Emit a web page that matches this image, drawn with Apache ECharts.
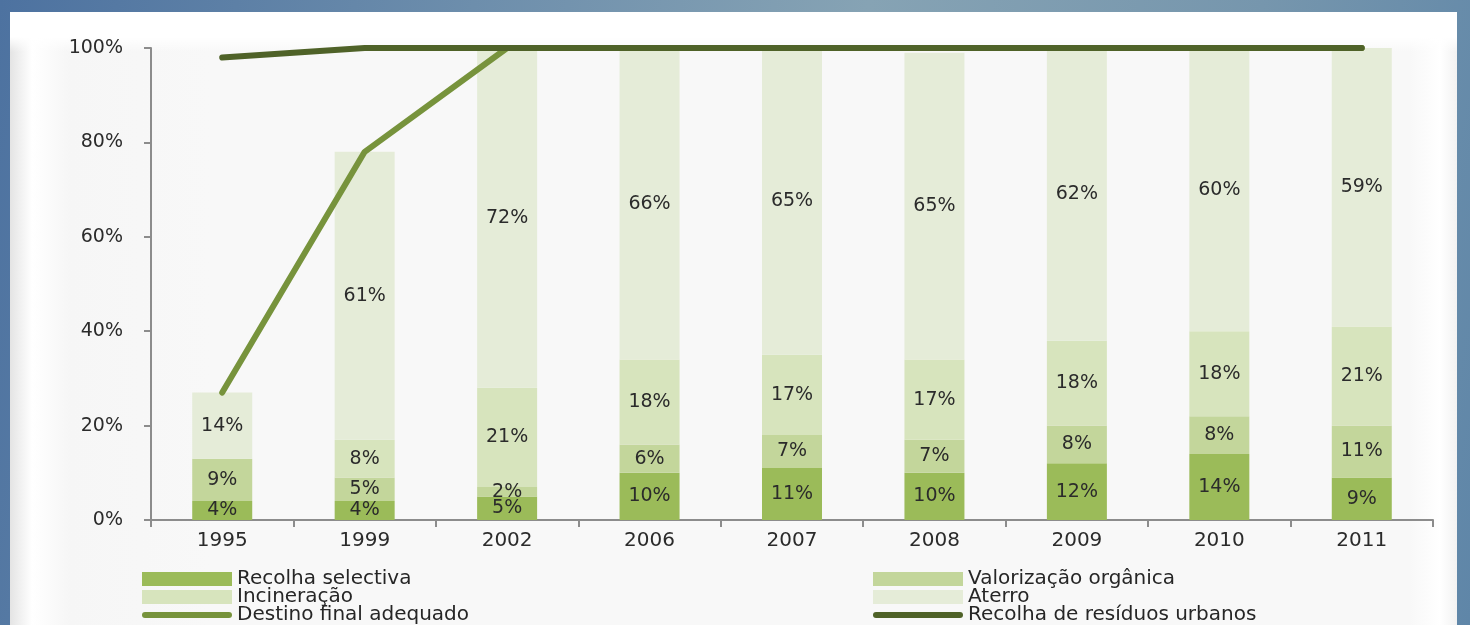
<!DOCTYPE html>
<html>
<head>
<meta charset="utf-8">
<script src="https://cdn.jsdelivr.net/npm/echarts@6/dist/echarts.min.js"></script>
<style>
  html, body { margin: 0; padding: 0; }
  body {
    width: 1470px; height: 625px; overflow: hidden; position: relative;
    background: linear-gradient(100deg, #4d72a0 0%, #6d8eac 30%, #86a3b4 55%, #7696ad 80%, #5f86a8 100%);
  }
  #frame {
    position: absolute; left: 10px; top: 12px; width: 1447px; height: 613px;
    background:
      linear-gradient(to bottom, #ffffff 0px, #ffffff 25px, rgba(255,255,255,0) 40px),
      linear-gradient(to right, #e4e4e4 0px, #ffffff 22px, #f6f6f6 60px, #f8f8f8 200px, #f8f8f8 1400px, #ffffff 1430px, #f2f2f2 1447px);
  }
  #main { position: absolute; left: 0; top: 0; width: 1470px; height: 625px; }
</style>
</head>
<body>
<div id="frame"></div>
<div id="main"></div>
<script>
// 数据
var years = ["1995", "1999", "2002", "2006", "2007", "2008", "2009", "2010", "2011"];
var recolhaSelectiva = [4, 4, 5, 10, 11, 10, 12, 14, 9];
var valorizacaoOrganica = [9, 5, 2, 6, 7, 7, 8, 8, 11];
var incineracao = [0, 8, 21, 18, 17, 17, 18, 18, 21];
var aterro = [14, 61, 72, 66, 65, 65, 62, 60, 59];
var destinoFinal = [27, 78, 100, 100, 100, 100, 100, 100, 100];
var recolhaResiduos = [98, 100, 100, 100, 100, 100, 100, 100, 100];
var yTicks = [0, 20, 40, 60, 80, 100];

var font = "DejaVu Sans";
var pill = "path://M3,0 L87,0 A3,3 0 0 1 87,6 L3,6 A3,3 0 0 1 3,0 Z"; // 图例线条
var chart = echarts.init(document.getElementById("main"));

function barSeries(name, data, color) {
  return {
    name: name,
    type: "bar",
    stack: "total",
    barWidth: 60,
    data: data,
    itemStyle: { color: color },
    label: {
      show: true,
      position: "inside",
      color: "#2b2b2b",
      fontFamily: font,
      fontSize: 19,
      formatter: function(p) {
        return p.value ? p.value + "%" : "";
      }
    },
    animation: false
  };
}

function lineSeries(name, data, color) {
  return {
    name: name,
    type: "line",
    data: data,
    symbol: "none",
    lineStyle: { color: color, width: 6, cap: "round", join: "round" },
    itemStyle: { color: color },
    z: 5,
    animation: false
  };
}

function legendItem(name, left, top, isLine) {
  return {
    data: [name],
    left: left,
    top: top,
    icon: isLine ? pill : "rect",
    itemWidth: 90,
    itemHeight: isLine ? 6 : 14,
    padding: 0,
    textStyle: { color: "#262626", fontFamily: font, fontSize: 20 }
  };
}

chart.setOption({
  backgroundColor: "transparent",
  grid: { left: 151, right: 37, top: 48, bottom: 105 },
  legend: [
    legendItem("Recolha selectiva", 142, 569),
    legendItem("Valorização orgânica", 873, 569),
    legendItem("Incineração", 142, 587),
    legendItem("Aterro", 873, 587),
    legendItem("Destino final adequado", 142, 605, true),
    legendItem("Recolha de resíduos urbanos", 873, 605, true)
  ],
  xAxis: {
    type: "category",
    data: years,
    axisLine: { lineStyle: { color: "#8c8c8c", width: 2 } },
    axisTick: { show: true, length: 7, lineStyle: { color: "#8c8c8c", width: 2 } },
    axisLabel: { color: "#2b2b2b", fontFamily: font, fontSize: 20, margin: 11 }
  },
  yAxis: {
    type: "value",
    min: 0,
    max: 100,
    interval: 20,
    axisLine: { show: true, lineStyle: { color: "#8c8c8c", width: 2 } },
    axisTick: { show: true, length: 7, lineStyle: { color: "#8c8c8c", width: 2 } },
    splitLine: { show: false },
    axisLabel: {
      color: "#2b2b2b",
      fontFamily: font,
      fontSize: 19,
      margin: 28,
      formatter: function(v) {
        return yTicks.indexOf(v) >= 0 ? v + "%" : "";
      }
    }
  },
  series: [
    barSeries("Recolha selectiva", recolhaSelectiva, "#9bbb59"),
    barSeries("Valorização orgânica", valorizacaoOrganica, "#c3d69b"),
    barSeries("Incineração", incineracao, "#d7e4bd"),
    barSeries("Aterro", aterro, "#e5ecd8"),
    lineSeries("Destino final adequado", destinoFinal, "#77933c"),
    lineSeries("Recolha de resíduos urbanos", recolhaResiduos, "#4f6228")
  ]
});
</script>
</body>
</html>
